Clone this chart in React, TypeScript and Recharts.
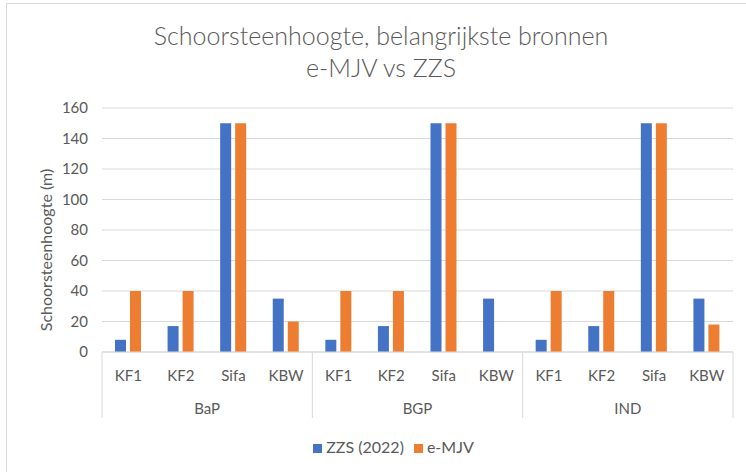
import React from 'react'
import { BarChart, Bar, XAxis, YAxis, CartesianGrid, Legend } from 'recharts'

const groups = ['BaP', 'BGP', 'IND']
const sources = ['KF1', 'KF2', 'Sifa', 'KBW']
const zzsValues = [8, 17, 150, 35, 8, 17, 150, 35, 8, 17, 150, 35]
const emjvValues = [40, 40, 150, 20, 40, 40, 150, null, 40, 40, 150, 18]
const yTicks = [0, 20, 40, 60, 80, 100, 120, 140, 160]

const data = groups.flatMap((g, gi) =>
  sources.map((s, si) => ({
    key: g + '-' + s,
    name: s,
    group: g,
    zzs: zzsValues[gi * sources.length + si],
    emjv: emjvValues[gi * sources.length + si],
  }))
)

const FONT = 'Lato, "Open Sans", sans-serif'
const GREY = '#595959'
const LINE = '#d9d9d9'

function CategoryTick(props: any) {
  const { x, y, payload, index } = props
  const half = payload.offset || 0
  const row = data[index]
  const n = sources.length
  return (
    <g>
      <text x={x} y={y + 23} textAnchor="middle" dominantBaseline="central" fill={GREY} fontSize={15} fontFamily={FONT}>
        {row.name}
      </text>
      {index % n === 0 && <line x1={x - half} x2={x - half} y1={y} y2={y + 66} stroke={LINE} />}
      {index === data.length - 1 && <line x1={x + half} x2={x + half} y1={y} y2={y + 66} stroke={LINE} />}
      {index % n === 1 && (
        <text x={x + half} y={y + 56} textAnchor="middle" dominantBaseline="central" fill={GREY} fontSize={15} fontFamily={FONT}>
          {row.group}
        </text>
      )}
    </g>
  )
}

function YLabel() {
  return (
    <text
      x={45}
      y={250}
      transform="rotate(-90 45 250)"
      textAnchor="middle"
      dominantBaseline="central"
      fill={GREY}
      fontSize={16}
      fontFamily={FONT}
    >
      Schoorsteenhoogte (m)
    </text>
  )
}

export default function App() {
  return (
    <div style={{ position: 'absolute', left: 0, top: 0, width: 746, height: 472, background: '#fff', fontFamily: FONT }}>
      <div
        style={{
          position: 'absolute',
          left: 6,
          top: 3,
          width: 740,
          height: 469,
          borderLeft: '1px solid ' + LINE,
          borderTop: '1px solid ' + LINE,
        }}
      />
      <div
        style={{
          position: 'absolute',
          left: 0,
          top: 19,
          width: 762,
          textAlign: 'center',
          color: GREY,
          fontSize: 25,
          fontWeight: 300,
          lineHeight: '32px',
        }}
      >
        Schoorsteenhoogte, belangrijkste bronnen
        <br />
        e-MJV vs ZZS
      </div>
      <BarChart
        width={746}
        height={472}
        data={data}
        margin={{ top: 108, right: 13, bottom: 50, left: 0 }}
        barSize={11}
        barGap={4}
      >
        <CartesianGrid vertical={false} stroke={LINE} />
        <XAxis
          dataKey="key"
          interval={0}
          height={70}
          tickLine={false}
          tickSize={0}
          tickMargin={0}
          axisLine={{ stroke: LINE }}
          tick={<CategoryTick />}
        />
        <YAxis
          width={102}
          domain={[0, 160]}
          ticks={yTicks}
          axisLine={false}
          tickLine={false}
          tickSize={0}
          tickMargin={14}
          tick={{ fill: GREY, fontSize: 15, fontFamily: FONT }}
          label={<YLabel />}
        />
        <Legend
          verticalAlign="middle"
          align="center"
          iconType="square"
          iconSize={9}
          wrapperStyle={{ top: 437, left: 32, width: 733, fontSize: 16, fontFamily: FONT }}
          formatter={(v: string) => <span style={{ color: GREY }}>{v}</span>}
        />
        <Bar dataKey="zzs" name="ZZS (2022)" fill="#4472C4" isAnimationActive={false} />
        <Bar dataKey="emjv" name="e-MJV" fill="#ED7D31" isAnimationActive={false} />
      </BarChart>
    </div>
  )
}
